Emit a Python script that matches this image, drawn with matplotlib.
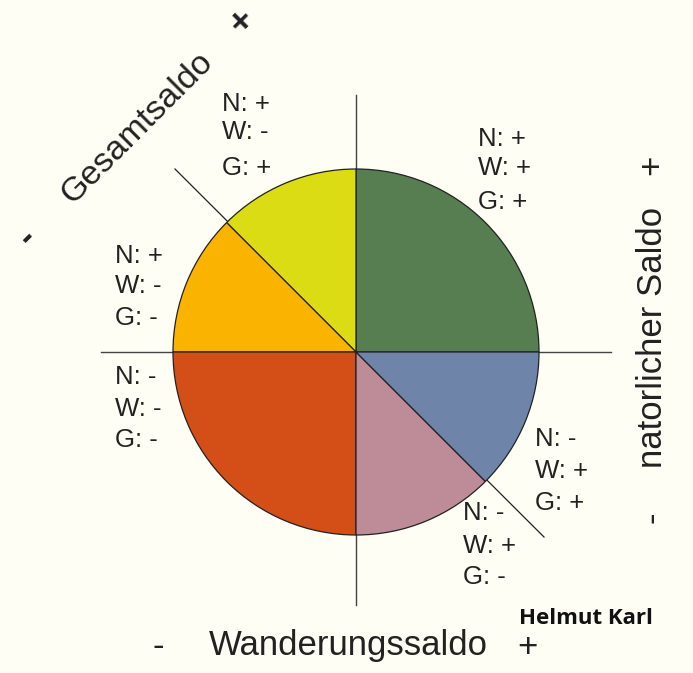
import matplotlib.pyplot as plt

# --------------------------
# Daten
# --------------------------
sektoren = ["N+ W+ G+", "N+ W- G+", "N+ W- G-", "N- W- G-", "N- W+ G-", "N- W+ G+"]
anteile = [2, 1, 1, 2, 1, 1]
farben = ["#567e50", "#dcdc14", "#fab400", "#d44e18", "#be8c98", "#6e84a8"]

# Beschriftungen der Sektoren: (N, W, G)
labels = [
    ("+", "+", "+"),
    ("+", "-", "+"),
    ("+", "-", "-"),
    ("-", "-", "-"),
    ("-", "+", "-"),
    ("-", "+", "+"),
]
# Position (linker Rand x, y der drei Zeilen) relativ zum Kreismittelpunkt
label_pos = [
    (122, [213, 184, 150]),
    (-134, [248, 220, 184]),
    (-241, [96, 66, 34]),
    (-241, [-25, -57, -88]),
    (107, [-161, -194, -225]),
    (179, [-87, -119, -151]),
]

BG = "#fefef5"
FONT = ["Liberation Sans", "DejaVu Sans"]
TXT = "#222222"

fig = plt.figure(figsize=(6.93, 6.73), dpi=100, facecolor=BG)
ax = fig.add_axes([0, 0, 1, 1])
ax.set_facecolor(BG)

# Achsen (Kreuz und Diagonale)
ax.plot([-255, 255], [0, 0], color="#444444", lw=1, zorder=1)
ax.plot([0, 0], [-253, 257], color="#444444", lw=1, zorder=1)
ax.plot([-181, 188], [183, -185], color="#222222", lw=0.9, zorder=1)

ax.pie(anteile, colors=farben, startangle=0, counterclock=True,
       radius=183, center=(0, 0), frame=True,
       wedgeprops=dict(edgecolor="#222222", linewidth=0.9))
ax.set_xlim(-356, 337)
ax.set_ylim(-321, 352)
ax.set_aspect("equal")
ax.axis("off")

for (n, w, g), (x, ys) in zip(labels, label_pos):
    for txt, y in zip([f"N: {n}", f"W: {w}", f"G: {g}"], ys):
        ax.text(x, y, txt, fontsize=18.5, family=FONT, color=TXT,
                ha="left", va="center")

# Achsenbeschriftungen
ax.text(-8, -294, "Wanderungssaldo", fontsize=25, family=FONT, color=TXT,
        ha="center", va="center")
ax.text(-198, -294, "-", fontsize=25, family=FONT, color=TXT,
        ha="center", va="center")
ax.text(171, -296, "+", fontsize=25, family=FONT, color=TXT,
        ha="center", va="center")

ax.text(296, 15, "natorlicher Saldo", fontsize=25, family=FONT, color=TXT,
        rotation=90, ha="center", va="center")
ax.text(296, 187, "+", fontsize=25, family=FONT, color=TXT,
        rotation=90, ha="center", va="center")
ax.text(296, -165, "-", fontsize=25, family=FONT, color=TXT,
        rotation=90, ha="center", va="center")

ax.text(-219, 224, "Gesamtsaldo", fontsize=24.5, family=FONT, color=TXT,
        rotation=45, ha="center", va="center", rotation_mode="anchor")
ax.text(-114, 330, "+", fontsize=26, family=FONT, color=TXT, fontweight="bold",
        rotation=45, ha="center", va="center", rotation_mode="anchor")
ax.text(-329, 115, "-", fontsize=26, family=FONT, color=TXT, fontweight="bold",
        rotation=45, ha="center", va="center", rotation_mode="anchor")

ax.text(230, -266, "Helmut Karl", fontsize=16, family=["Open Sans", "DejaVu Sans"],
        fontweight="bold", color="#111111", ha="center", va="center")

fig.savefig("out.png", dpi=100, facecolor=BG)
